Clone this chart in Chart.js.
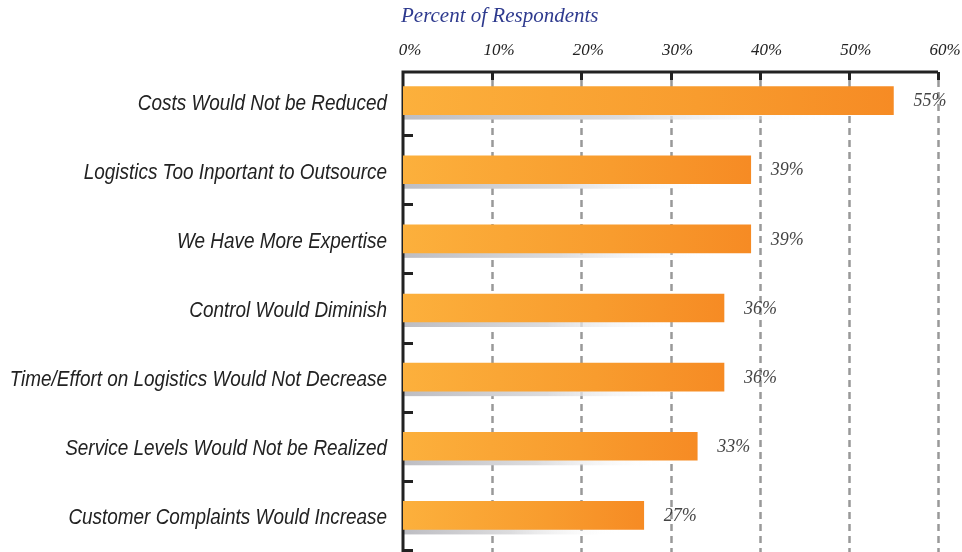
<!DOCTYPE html>
<html>
<head>
<meta charset="utf-8">
<script src="https://cdn.jsdelivr.net/npm/chart.js@4"></script>
<style>
  html, body { margin: 0; padding: 0; background: #fff; }
  #wrap { width: 962px; height: 552px; position: relative; }
</style>
</head>
<body>
<div id="wrap"><canvas id="chart"></canvas></div>
<script>
// data
const categories = [
  'Costs Would Not be Reduced',
  'Logistics Too Inportant to Outsource',
  'We Have More Expertise',
  'Control Would Diminish',
  'Time/Effort on Logistics Would Not Decrease',
  'Service Levels Would Not be Realized',
  'Customer Complaints Would Increase'
];
const values = [55, 39, 39, 36, 36, 33, 27];
const tickValues = [0, 10, 20, 30, 40, 50, 60];
const axisTitle = 'Percent of Respondents';

const SERIF = '"Liberation Serif", "Times New Roman", serif';
const SANS = '"Liberation Sans", Arial, sans-serif';

function barFill(ctx) {
  const chart = ctx.chart;
  const x = chart.scales.x;
  if (!chart.chartArea || !x) return '#f79a2c';
  const x0 = x.getPixelForValue(0);
  const x1 = x.getPixelForValue(values[ctx.dataIndex]);
  const g = chart.ctx.createLinearGradient(x0, 0, x1, 0);
  g.addColorStop(0, '#fcb03c');
  g.addColorStop(0.6, '#f89c2e');
  g.addColorStop(1, '#f68b24');
  return g;
}

// axes, dashed grid, bar shadows
const framePlugin = {
  id: 'frame',
  beforeDatasetsDraw(chart) {
    const { ctx, chartArea, scales } = chart;
    const x = scales.x, y = scales.y;
    const top = chartArea.top + 6;
    const left = x.getPixelForValue(0);
    ctx.save();

    // dashed grid
    ctx.strokeStyle = '#999';
    ctx.lineWidth = 2.5;
    ctx.setLineDash([7, 5]);
    tickValues.slice(1).forEach(v => {
      const px = Math.round(x.getPixelForValue(v)) + 0.5;
      ctx.beginPath();
      ctx.moveTo(px, top + 8);
      ctx.lineTo(px, chart.height);
      ctx.stroke();
    });
    ctx.setLineDash([]);

    // shadows under bars
    const meta = chart.getDatasetMeta(0);
    meta.data.forEach(bar => {
      const yb = bar.y + bar.height / 2;
      const w = (bar.x - left) * 0.9;
      const g = ctx.createLinearGradient(left, 0, left + w, 0);
      g.addColorStop(0, '#bdbdc2');
      g.addColorStop(0.5, '#dcdcde');
      g.addColorStop(1, 'rgba(255,255,255,0)');
      ctx.fillStyle = g;
      ctx.fillRect(left, yb - 1, w, 6);
    });

    // axis lines
    ctx.strokeStyle = '#222';
    ctx.lineWidth = 3;
    ctx.beginPath();
    ctx.moveTo(left, chart.height);
    ctx.lineTo(left, top);
    ctx.lineTo(x.getPixelForValue(60), top);
    ctx.stroke();

    // top ticks
    tickValues.slice(1).forEach(v => {
      const px = Math.round(x.getPixelForValue(v)) + 0.5;
      ctx.beginPath();
      ctx.moveTo(px, top);
      ctx.lineTo(px, top + 8);
      ctx.stroke();
    });

    // left ticks between categories
    for (let i = 0; i < categories.length; i++) {
      const c = y.getPixelForValue(i);
      const n = i + 1 < categories.length ? y.getPixelForValue(i + 1) : c + (c - y.getPixelForValue(i - 1));
      const py = Math.round((c + n) / 2) + 0.5;
      ctx.beginPath();
      ctx.moveTo(left, py);
      ctx.lineTo(left + 10, py);
      ctx.stroke();
    }
    ctx.restore();
  },
  afterDatasetsDraw(chart) {
    const { ctx, scales } = chart;
    const y = scales.y;
    const left = scales.x.getPixelForValue(0);
    const meta = chart.getDatasetMeta(0);
    ctx.save();

    // value labels
    ctx.font = 'italic 18px ' + SERIF;
    ctx.fillStyle = '#444';
    ctx.textBaseline = 'middle';
    ctx.textAlign = 'left';
    meta.data.forEach((bar, i) => {
      ctx.fillText(values[i] + '%', bar.x + 20, bar.y + 1);
    });

    // category labels (condensed italic sans)
    ctx.font = 'italic 22px ' + SANS;
    ctx.fillStyle = '#222';
    ctx.textAlign = 'right';
    ctx.textBaseline = 'alphabetic';
    const sx = 0.86;
    categories.forEach((c, i) => {
      const py = y.getPixelForValue(i);
      ctx.save();
      ctx.translate(left - 16, py + 9);
      ctx.scale(sx, 1);
      ctx.fillText(c, 0, 0);
      ctx.restore();
    });

    // axis title
    ctx.font = 'italic 21px ' + SERIF;
    ctx.fillStyle = '#2e3a8e';
    ctx.textAlign = 'left';
    ctx.fillText(axisTitle, left - 2, 22);
    ctx.restore();
  }
};

const chart = new Chart(document.getElementById('chart'), {
  type: 'bar',
  data: {
    labels: categories,
    datasets: [{
      data: values,
      backgroundColor: barFill,
      borderWidth: 0,
      barThickness: 28
    }]
  },
  options: {
    indexAxis: 'y',
    responsive: true,
    maintainAspectRatio: false,
    animation: false,
    layout: { padding: { left: 0, right: 24, top: 0, bottom: 2 } },
    plugins: {
      legend: { display: false },
      tooltip: { enabled: false }
    },
    scales: {
      x: {
        position: 'top',
        min: 0,
        max: 60,
        afterBuildTicks: axis => { axis.ticks = tickValues.map(v => ({ value: v })); },
        afterFit: axis => { axis.height = 66; },
        grid: { display: false, drawTicks: false },
        border: { display: false },
        ticks: {
          padding: 5,
          labelOffset: 7,
          color: '#222',
          font: { family: SERIF, style: 'italic', size: 17 },
          callback: v => v + '%'
        }
      },
      y: {
        afterFit: axis => { axis.width = 403; },
        grid: { display: false, drawTicks: false },
        border: { display: false },
        ticks: { display: false }
      }
    }
  },
  plugins: [framePlugin]
});
</script>
</body>
</html>
